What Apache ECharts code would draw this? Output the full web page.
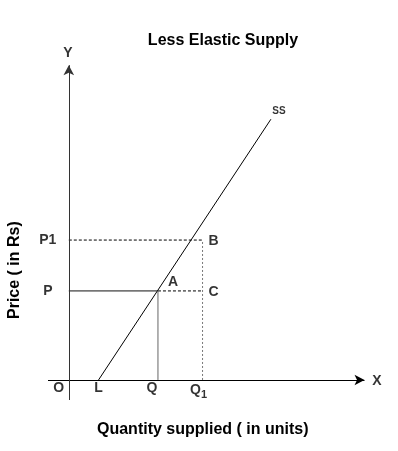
<!DOCTYPE html>
<html><head><meta charset="utf-8">
<script src="https://cdn.jsdelivr.net/npm/echarts@6/dist/echarts.min.js"></script>
<style>html,body{margin:0;padding:0;background:#fff}#c{width:398px;height:451px}</style>
</head><body><div id="c"></div>
<script>
// Data (in chart units)
const title = 'Less Elastic Supply';
const xName = 'Quantity supplied ( in units)';
const yName = 'Price ( in Rs)';
const qLabels = ['L', 'Q', 'Q1'];
const qValues = [10, 30, 45];
const pLabels = ['P', 'P1'];
const pValues = [28, 44];
const supplyLine = [[10, 0], [68, 82]];
const pointLabels = ['A', 'B', 'C'];
const axisMax = [100, 100];
const axisMin = [-7, -6.3];

const qQ = qValues[1], qQ1 = qValues[2];
const pP = pValues[0], pP1 = pValues[1];
const F = 'Liberation Sans, Arial, sans-serif';

function lineSeries(data, color, type) {
  return {type: 'line', data: data, symbol: 'none', silent: true,
    lineStyle: {color: color, width: 1, type: type || 'solid'}, z: 3};
}
function labelPt(coord, text, offset, extra) {
  return {value: coord, label: Object.assign({show: true, position: 'inside', formatter: text, offset: offset,
    color: '#000', fontFamily: F, fontSize: 14, fontWeight: 'bold'}, extra || {})};
}

const chart = echarts.init(document.getElementById('c'));
chart.setOption({
  animation: false,
  title: {text: title, left: 218, textAlign: 'center', top: 28,
    textStyle: {fontFamily: F, fontSize: 16, fontWeight: 'bold', color: '#000'}},
  grid: {left: 48, right: 32, top: 62, bottom: 51},
  xAxis: {type: 'value', min: axisMin[0], max: axisMax[0], show: false},
  yAxis: {type: 'value', min: axisMin[1], max: axisMax[1], show: false},
  graphic: [
    {type: 'text', left: 97, top: 422, style: {text: xName, fontFamily: F, fontSize: 16, fontWeight: 'bold', fill: '#000'}},
    {type: 'text', x: 7, y: 319, rotation: Math.PI / 2, style: {text: yName, fontFamily: F, fontSize: 16, fontWeight: 'bold', fill: '#000'}}
  ],
  series: [
    // axes with arrows
    {type: 'line', data: [], silent: true,
      markLine: {silent: true, symbol: ['none', 'arrow'], symbolSize: [8, 10], label: {show: false},
        lineStyle: {color: '#000', width: 1, type: 'solid'},
        data: [
          [{coord: [axisMin[0], 0]}, {coord: [axisMax[0] - 0.5, 0]}],
          [{coord: [0, axisMin[1]], lineStyle: {color: '#333'}}, {coord: [0, axisMax[1] - 1]}]
        ]}},
    // supply curve
    lineSeries(supplyLine, '#000'),
    // P horizontal (solid to A, dashed to C)
    lineSeries([[0, pP], [qQ, pP]], '#111'),
    lineSeries([[qQ, pP], [qQ1, pP]], '#000', [3, 2]),
    // P1 dashed
    lineSeries([[0, pP1], [qQ1, pP1]], '#000', [3, 2]),
    // Q vertical
    lineSeries([[qQ, 0], [qQ, pP]], '#666'),
    // Q1 vertical dotted
    lineSeries([[qQ1, 0], [qQ1, pP1]], '#777', [2, 2]),
    // text labels
    {type: 'scatter', symbolSize: 0, silent: true, z: 5,
      data: [
        labelPt([0, 0], 'O', [-10, 8]),
        labelPt([qValues[0], 0], qLabels[0], [0, 8]),
        labelPt([qValues[1], 0], qLabels[1], [-6, 8]),
        labelPt([qValues[2], 0], '{a|Q}{sub|1}', [-4, 10], {rich: {
          a: {fontFamily: F, fontSize: 14, fontWeight: 'bold', color: '#000'},
          sub: {fontFamily: F, fontSize: 11, fontWeight: 'bold', color: '#000', padding: [10, 0, 0, 0]}}}),
        labelPt([0, pValues[0]], pLabels[0], [-21, 0]),
        labelPt([0, pValues[1]], pLabels[1], [-21, 0]),
        labelPt([qQ, pP], pointLabels[0], [15, -9]),
        labelPt([qQ1, pP1], pointLabels[1], [11, 1]),
        labelPt([qQ1, pP], pointLabels[2], [11, 1]),
        labelPt([axisMax[0], 0], 'X', [11, 1]),
        labelPt([0, axisMax[1]], 'Y', [-1, -9]),
        labelPt(supplyLine[1], 'SS', [8, -8], {fontSize: 10})
      ]}
  ]
});
</script></body></html>
